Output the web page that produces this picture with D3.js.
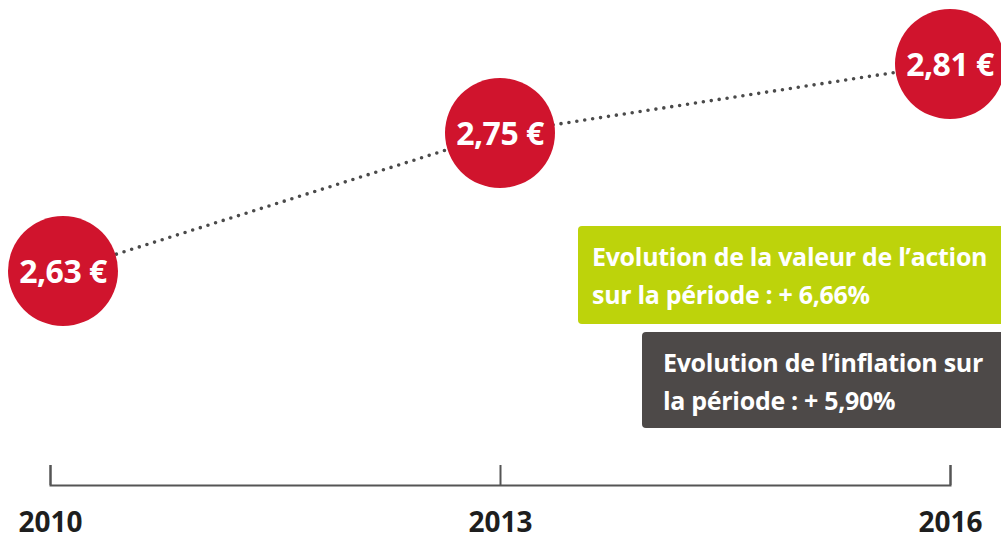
<!DOCTYPE html>
<html>
<head>
<meta charset="utf-8">
<script src="https://cdn.jsdelivr.net/npm/d3@7"></script>
<style>
  html, body { margin: 0; padding: 0; background: #ffffff; }
  svg { display: block; }
</style>
</head>
<body>
<div id="chart"></div>
<script>
// Data
const years = ["2010", "2013", "2016"];
const prices = [2.63, 2.75, 2.81];
const priceLabels = ["2,63 €", "2,75 €", "2,81 €"];
const stockNote = ["Evolution de la valeur de l\u2019action", "sur la période : + 6,66%"];
const inflationNote = ["Evolution de l\u2019inflation sur", "la période : + 5,90%"];

const width = 1001, height = 539;
const fontFamily = "'Open Sans', 'Noto Sans', sans-serif";
const colors = {
  bubble: "#d0142d",
  dots: "#4a4a4a",
  axis: "#555555",
  year: "#1e1e1e",
  green: "#bdd30b",
  dark: "#4d4948"
};

const svg = d3.select("#chart").append("svg")
  .attr("width", width)
  .attr("height", height);

// Scales
const xScale = d3.scalePoint().domain(years).range([50, 950]);
const yScale = d3.scaleLinear().domain([2.63, 2.81]).range([271, 64]);
const radius = 55;

// keep the first bubble inside the canvas
const bubbleX = d => Math.max(xScale(d.year), radius + 8);

const points = years.map((y, i) => ({ year: y, value: prices[i], label: priceLabels[i] }));

// Axis (ticks pointing upward)
const axisY = 485;
const axis = d3.axisBottom(xScale)
  .tickSize(-20)
  .tickSizeOuter(-20)
  .tickPadding(27);

const axisG = svg.append("g")
  .attr("transform", `translate(0,${axisY})`)
  .call(axis);
axisG.selectAll("path, line")
  .attr("stroke", colors.axis)
  .attr("stroke-width", 2);
axisG.selectAll("text")
  .attr("fill", colors.year)
  .style("font-family", fontFamily)
  .style("font-weight", "bold")
  .style("font-size", "28px");

// Dotted connecting line
const line = d3.line()
  .x(d => bubbleX(d))
  .y(d => yScale(d.value));

svg.append("path")
  .datum(points)
  .attr("d", line)
  .attr("fill", "none")
  .attr("stroke", colors.dots)
  .attr("stroke-width", 3.6)
  .attr("stroke-linecap", "round")
  .attr("stroke-dasharray", "0 8");

// Bubbles
const bubbles = svg.selectAll(".bubble")
  .data(points)
  .enter()
  .append("g")
  .attr("class", "bubble")
  .attr("transform", d => `translate(${bubbleX(d)},${yScale(d.value)})`);

bubbles.append("circle")
  .attr("r", radius)
  .attr("fill", colors.bubble);

bubbles.append("text")
  .attr("text-anchor", "middle")
  .attr("dy", "0.36em")
  .attr("fill", "#ffffff")
  .style("font-family", fontFamily)
  .style("font-weight", "bold")
  .style("font-size", "32px")
  .style("letter-spacing", "-0.5px")
  .text(d => d.label);

// Note boxes
function noteBox(x, y, w, h, fill, lines, textX) {
  const g = svg.append("g");
  g.append("rect")
    .attr("x", x).attr("y", y)
    .attr("width", w).attr("height", h)
    .attr("rx", 4)
    .attr("fill", fill);
  g.selectAll("text")
    .data(lines)
    .enter()
    .append("text")
    .attr("x", textX)
    .attr("y", (d, i) => y + 40 + i * 38)
    .attr("fill", "#ffffff")
    .style("font-family", fontFamily)
    .style("font-weight", "bold")
    .style("font-size", "25px")
    .style("letter-spacing", "-0.3px")
    .text(d => d);
}

noteBox(578, 226, 440, 98, colors.green, stockNote, 592);
noteBox(642, 332, 380, 96, colors.dark, inflationNote, 663);
</script>
</body>
</html>
